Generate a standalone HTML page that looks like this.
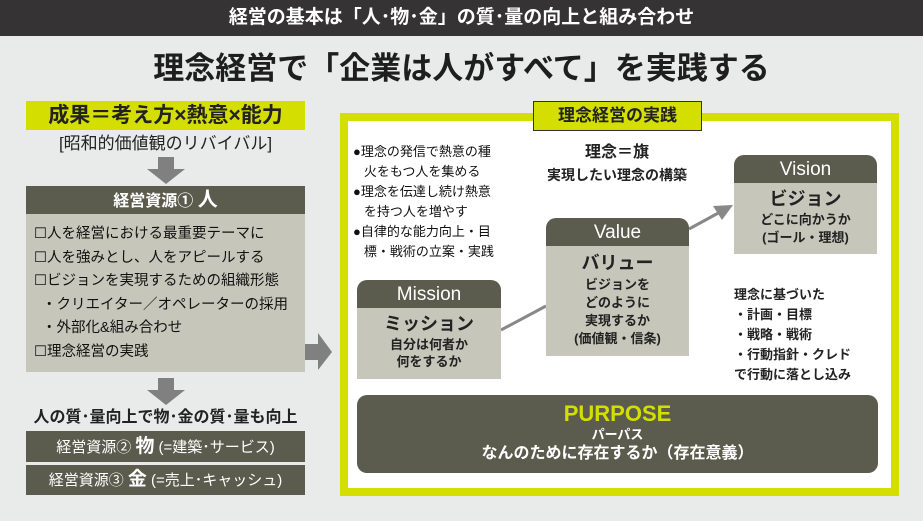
<!DOCTYPE html>
<html><head><meta charset="utf-8"><style>
*{margin:0;padding:0;box-sizing:border-box}
body{width:923px;height:521px;background:#e9eaea;font-family:"Liberation Sans","Noto Sans CJK JP",sans-serif;position:relative;overflow:hidden;color:#222}
.a{position:absolute}
.c{text-align:center}
.dk{background:#5b5c4e;color:#fff}
.lt{background:#c6c7ba}
.b{font-weight:bold}
</style></head><body>
<div class="a dk c b" style="left:0;top:0;width:923px;height:36px;background:#353333;font-size:19px;line-height:36px">経営の基本は「人･物･金」の質･量の向上と組み合わせ</div>
<div class="a c b" style="left:0;top:48px;width:923px;font-size:31px;line-height:42px;color:#1e1e1e">理念経営で「企業は人がすべて」を実践する</div>

<div class="a c b" style="left:26px;top:101px;width:279px;height:29px;background:#d4de00;font-size:21px;line-height:29px">成果＝考え方×熱意×能力</div>
<div class="a c" style="left:26px;top:132px;width:279px;font-size:17px;line-height:24px">[昭和的価値観のリバイバル]</div>
<svg class="a" style="left:146px;top:157px" width="40" height="28"><polygon points="12,0 28,0 28,12 39,12 20,27 1,12 12,12" fill="#808080"/></svg>
<div class="a dk c b" style="left:26px;top:186px;width:279px;height:28px;font-size:16px;line-height:28px">経営資源① <span style="font-size:20px">人</span></div>
<div class="a lt" style="left:26px;top:214px;width:279px;height:158px;font-size:14.5px;line-height:23.5px;padding:9px 0 0 8px;color:#111">
☐人を経営における最重要テーマに<br>☐人を強みとし、人をアピールする<br>☐ビジョンを実現するための組織形態<br>&nbsp;&nbsp;・クリエイター／オペレーターの採用<br>&nbsp;&nbsp;・外部化&amp;組み合わせ<br>☐理念経営の実践</div>
<svg class="a" style="left:305px;top:333px" width="28" height="38"><polygon points="0,11 13,11 13,0 27,19 13,37 13,27 0,27" fill="#808080"/></svg>
<svg class="a" style="left:146px;top:378px" width="40" height="28"><polygon points="12,0 28,0 28,12 39,12 20,27 1,12 12,12" fill="#808080"/></svg>
<div class="a c b" style="left:20px;top:406px;width:291px;font-size:16px;line-height:24px">人の質･量向上で物･金の質･量も向上</div>
<div class="a dk c" style="left:26px;top:431px;width:279px;height:31px;font-size:15px;line-height:31px">経営資源② <b style="font-size:19px">物</b> (=建築･サービス)</div>
<div class="a dk c" style="left:26px;top:465px;width:279px;height:30px;font-size:15px;line-height:30px">経営資源③ <b style="font-size:19px">金</b> (=売上･キャッシュ)</div>

<div class="a" style="left:340px;top:113px;width:559px;height:383px;border:8px solid #d4de00;background:#fff"></div>
<div class="a c b" style="left:533px;top:101px;width:169px;height:30px;background:#d4de00;border:1.5px solid #333;font-size:17px;line-height:27px">理念経営の実践</div>

<div class="a" style="left:353px;top:142px;width:170px;font-size:13px;line-height:20px;color:#111">●理念の発信で熱意の種<br>&nbsp;&nbsp;&nbsp;火をもつ人を集める<br>●理念を伝達し続け熱意<br>&nbsp;&nbsp;&nbsp;を持つ人を増やす<br>●自律的な能力向上・目<br>&nbsp;&nbsp;&nbsp;標・戦術の立案・実践</div>
<div class="a c b" style="left:527px;top:142px;width:180px;font-size:16px;line-height:22px">理念＝旗<br><span style="font-size:14px">実現したい理念の構築</span></div>

<svg class="a" style="left:0;top:0" width="923" height="521">
<line x1="501" y1="330" x2="546" y2="306" stroke="#888" stroke-width="3"/>
<line x1="689" y1="229" x2="722" y2="211" stroke="#888" stroke-width="3"/>
<polygon points="733,205 713,206 722,220" fill="#888"/>
</svg>

<div class="a" style="left:357px;top:280px;width:144px;height:99px;border-radius:10px 10px 0 0;overflow:hidden">
<div class="dk c" style="height:28px;font-size:19px;line-height:30px">Mission</div>
<div class="lt c b" style="height:71px;padding-top:4px;font-size:13px;line-height:17px"><span style="font-size:18px;line-height:24px">ミッション</span><br>自分は何者か<br>何をするか</div></div>

<div class="a" style="left:546px;top:218px;width:143px;height:138px;border-radius:10px 10px 0 0;overflow:hidden">
<div class="dk c" style="height:28px;font-size:19px;line-height:30px">Value</div>
<div class="lt c b" style="height:110px;padding-top:4px;font-size:13px;line-height:18px"><span style="font-size:18px;line-height:26px">バリュー</span><br>ビジョンを<br>どのように<br>実現するか<br>(価値観・信条)</div></div>

<div class="a" style="left:734px;top:155px;width:143px;height:99px;border-radius:10px 10px 0 0;overflow:hidden">
<div class="dk c" style="height:28px;font-size:19px;line-height:30px">Vision</div>
<div class="lt c b" style="height:71px;padding-top:4px;font-size:13px;line-height:18px"><span style="font-size:18px;line-height:24px">ビジョン</span><br>どこに向かうか<br>(ゴール・理想)</div></div>

<div class="a b" style="left:734px;top:285px;font-size:13px;line-height:20px">理念に基づいた<br>・計画・目標<br>・戦略・戦術<br>・行動指針・クレド<br>で行動に落とし込み</div>

<div class="a dk c b" style="left:357px;top:395px;width:521px;height:78px;border-radius:10px;padding-top:6px">
<div style="color:#d4de00;font-size:22px;line-height:26px">PURPOSE</div>
<div style="font-size:13px;line-height:16px">パーパス</div>
<div style="font-size:16px;line-height:22px">なんのために存在するか（存在意義）</div></div>
</body></html>
